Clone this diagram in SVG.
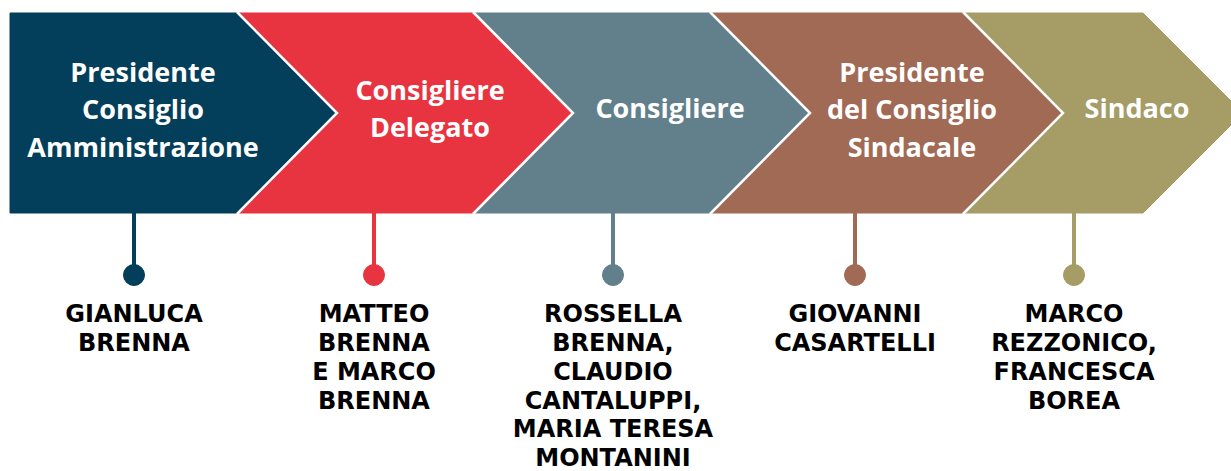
<svg xmlns="http://www.w3.org/2000/svg" width="1231" height="471" viewBox="0 0 1231 471">
<style>
.h{font-family:"Open Sans","Liberation Sans",sans-serif;font-weight:700;font-size:27px;fill:#ffffff;text-anchor:middle}
.n{font-family:"DejaVu Sans","Liberation Sans",sans-serif;font-weight:700;font-size:24px;fill:#000000;text-anchor:middle}
.sep{fill:none;stroke:#ffffff;stroke-width:2.5}
.c1{fill:#033E5A;stroke:#033E5A}
.c2{fill:#E83340;stroke:#E83340}
.c3{fill:#62808B;stroke:#62808B}
.c4{fill:#A06A55;stroke:#A06A55}
.c5{fill:#A59C66;stroke:#A59C66}
.ln{stroke-width:4}
</style>
<rect width="1231" height="471" fill="#ffffff"/>
<g id="node1">
<polygon class="c1" stroke="none" points="10,13 237,13 337,113 237,213 10,213"/>
<text class="h" x="143" y="82">Presidente</text>
<text class="h" x="143" y="119">Consiglio</text>
<text class="h" x="143" y="157">Amministrazione</text>
</g>
<g id="node2">
<polygon class="c2" stroke="none" points="237,13 473,13 573,113 473,213 237,213 337,113"/>
<text class="h" x="430" y="100">Consigliere</text>
<text class="h" x="430" y="137">Delegato</text>
</g>
<g id="node3">
<polygon class="c3" stroke="none" points="473,13 710,13 810,113 710,213 473,213 573,113"/>
<text class="h" x="670" y="118">Consigliere</text>
</g>
<g id="node4">
<polygon class="c4" stroke="none" points="710,13 963,13 1063,113 963,213 710,213 810,113"/>
<text class="h" x="912" y="82">Presidente</text>
<text class="h" x="912" y="119">del Consiglio</text>
<text class="h" x="912" y="157">Sindacale</text>
</g>
<g id="node5">
<polygon class="c5" stroke="none" points="963,13 1143,13 1243,113 1143,213 963,213 1063,113"/>
<text class="h" x="1137" y="118">Sindaco</text>
</g>
<g id="separators">
<polyline class="sep" points="237,12 337,113 237,214"/>
<polyline class="sep" points="473,12 573,113 473,214"/>
<polyline class="sep" points="710,12 810,113 710,214"/>
<polyline class="sep" points="963,12 1063,113 963,214"/>
</g>
<g id="connectors">
<line class="c1 ln" x1="134" y1="213" x2="134" y2="275"/>
<circle class="c1" stroke="none" cx="134" cy="275" r="10.5"/>
<line class="c2 ln" x1="374" y1="213" x2="374" y2="275"/>
<circle class="c2" stroke="none" cx="374" cy="275" r="10.5"/>
<line class="c3 ln" x1="613" y1="213" x2="613" y2="275"/>
<circle class="c3" stroke="none" cx="613" cy="275" r="10.5"/>
<line class="c4 ln" x1="855" y1="213" x2="855" y2="275"/>
<circle class="c4" stroke="none" cx="855" cy="275" r="10.5"/>
<line class="c5 ln" x1="1074" y1="213" x2="1074" y2="275"/>
<circle class="c5" stroke="none" cx="1074" cy="275" r="10.5"/>
</g>
<g id="label1">
<text class="n" x="134" y="322">GIANLUCA</text>
<text class="n" x="134" y="351">BRENNA</text>
</g>
<g id="label2">
<text class="n" x="374" y="322">MATTEO</text>
<text class="n" x="374" y="351">BRENNA</text>
<text class="n" x="374" y="380">E MARCO</text>
<text class="n" x="374" y="408.5">BRENNA</text>
</g>
<g id="label3">
<text class="n" x="613" y="322">ROSSELLA</text>
<text class="n" x="613" y="351">BRENNA,</text>
<text class="n" x="613" y="380">CLAUDIO</text>
<text class="n" x="613" y="408.5">CANTALUPPI,</text>
<text class="n" x="613" y="437">MARIA TERESA</text>
<text class="n" x="613" y="466">MONTANINI</text>
</g>
<g id="label4">
<text class="n" x="855" y="322">GIOVANNI</text>
<text class="n" x="855" y="351">CASARTELLI</text>
</g>
<g id="label5">
<text class="n" x="1074" y="322">MARCO</text>
<text class="n" x="1074" y="351">REZZONICO,</text>
<text class="n" x="1074" y="380">FRANCESCA</text>
<text class="n" x="1074" y="408.5">BOREA</text>
</g>
</svg>
